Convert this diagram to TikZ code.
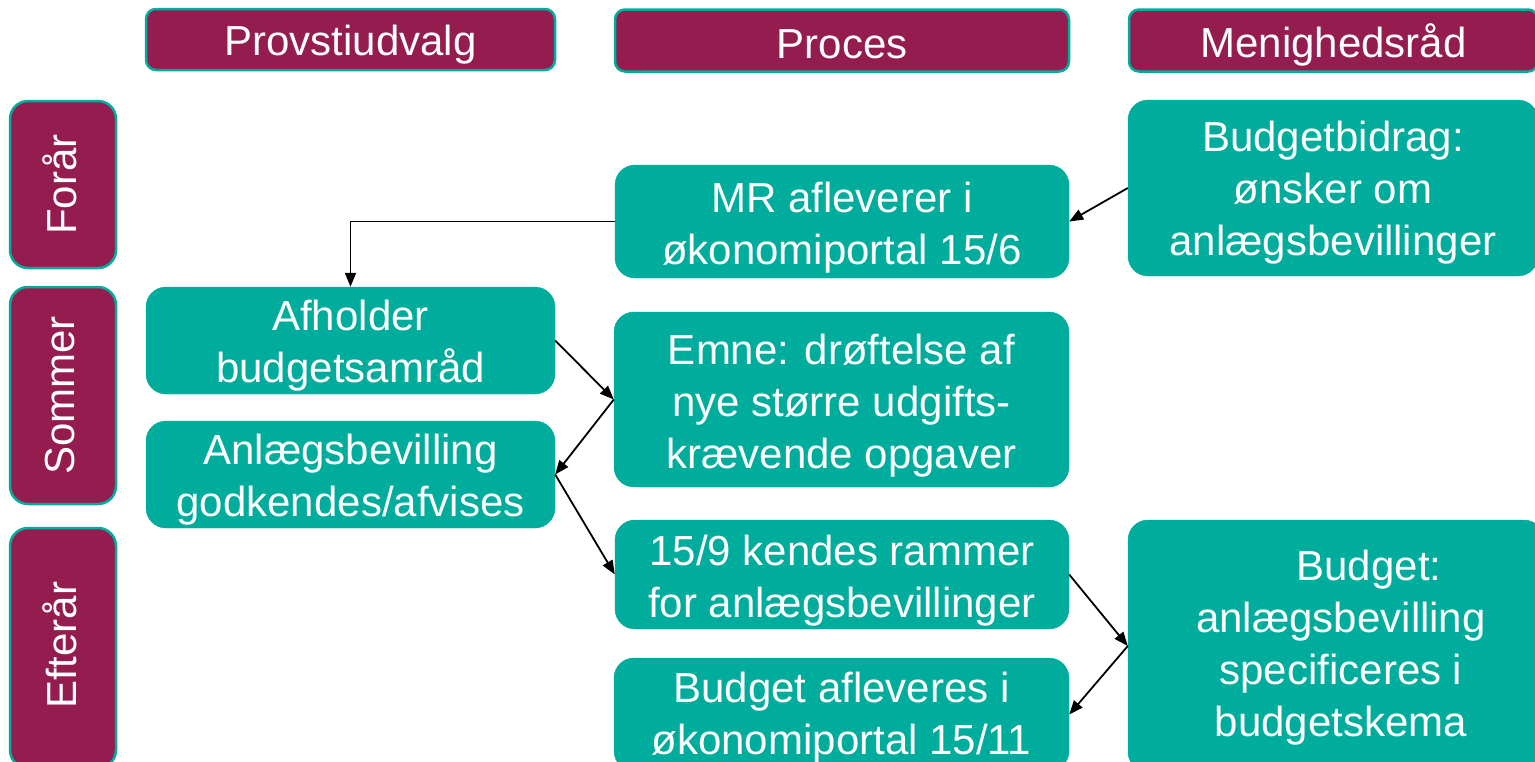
\documentclass[tikz,border=0pt]{standalone}
\usepackage{fontspec}
\setmainfont{Liberation Sans}
\usetikzlibrary{arrows.meta}
\definecolor{plum}{RGB}{149,28,78}
\definecolor{teal2}{RGB}{0,173,157}
\begin{document}
\begin{tikzpicture}[x=1pt,y=-1pt,
 hdr/.style={draw=teal2, line width=2.5pt, fill=plum, rounded corners=10pt, inner sep=0pt},
 side/.style={hdr, rounded corners=18pt},
 stepbox/.style={fill=teal2, draw=teal2, rounded corners=20pt, inner sep=0pt},
 txt/.style={text=white, font=\fontsize{42}{52}\selectfont, align=center, inner sep=0pt},
 arr/.style={-{Triangle[length=14pt,width=11pt]}, line width=1.8pt}]
\useasboundingbox (0,0) rectangle (1535,761);
% headers
\node[hdr, minimum width=409pt, minimum height=61pt] (h1) at (350.5,39.5) {};
\node[hdr, minimum width=454pt, minimum height=62pt] (h2) at (842,40.5) {};
\node[hdr, minimum width=409pt, minimum height=62pt] (h3) at (1333.5,40.5) {};
\node[txt, anchor=base] (h1t) at ([yshift=-15.5pt]h1.center) {Provstiudvalg};
\node[txt, anchor=base] (h2t) at ([yshift=-17.5pt]h2.center) {Proces};
\node[txt, anchor=base] (h3t) at ([yshift=-16.5pt]h3.center) {Menighedsråd};
% seasons
\node[side, minimum width=106pt, minimum height=167pt] (s1) at (63,184.5) {};
\node[side, minimum width=106pt, minimum height=217pt] (s2) at (63,395.5) {};
\node[side, minimum width=106pt, minimum height=240pt] (s3) at (63,648) {};
\node[txt, rotate=90] (s1t) at ([xshift=-3pt]s1.center) {Forår};
\node[txt, rotate=90] (s2t) at ([xshift=-3pt]s2.center) {Sommer};
\node[txt, rotate=90] (s3t) at ([xshift=-3pt,yshift=3pt]s3.center) {Efterår};
% process boxes
\node[stepbox, minimum width=454pt, minimum height=113pt] (mr) at (842,221.5) {};
\node[stepbox, minimum width=410pt, minimum height=176pt] (bb) at (1333,188) {};
\node[stepbox, minimum width=409pt, minimum height=107pt] (afh) at (350.5,340.5) {};
\node[stepbox, minimum width=409pt, minimum height=107pt] (anl) at (350.5,474.5) {};
\node[stepbox, minimum width=455pt, minimum height=175pt] (emne) at (841.5,399.5) {};
\node[stepbox, minimum width=454pt, minimum height=109pt] (r159) at (842,574.5) {};
\node[stepbox, minimum width=455pt, minimum height=113pt] (ba) at (841.5,714.5) {};
\node[stepbox, minimum width=416pt, minimum height=252pt] (bud) at (1336,646) {};
\node[txt] (mrt) at ([yshift=-6pt]mr.center) {MR afleverer i\\økonomiportal 15/6};
\node[txt] (bbt) at ([yshift=-5pt]bb.center) {Budgetbidrag:\\ønsker om\\anlægsbevillinger};
\node[txt] (afht) at ([yshift=-5pt]afh.center) {Afholder\\budgetsamråd};
\node[txt] (anlt) at ([yshift=-5pt]anl.center) {Anlægsbevilling\\godkendes/afvises};
\node[txt] (emnet) at ([yshift=-6pt]emne.center) {Emne: drøftelse af\\nye større udgifts-\\krævende opgaver};
\node[txt] (r159t) at ([yshift=-6pt]r159.center) {15/9 kendes rammer\\for anlægsbevillinger};
\node[txt] (bat) at ([yshift=-3pt]ba.center) {Budget afleveres i\\økonomiportal 15/11};
\node[txt] (budt) at ([xshift=5pt,yshift=-2pt]bud.center) {\hspace*{56pt}Budget:\\anlægsbevilling\\specificeres i\\budgetskema};
% connectors
\draw[arr] (bb.west) -- (mr.east);
\draw[arr] (mr.west) -| (afh.north);
\draw[arr] (afh.east) -- (emne.west);
\draw[arr] (emne.west) -- (anl.east);
\draw[arr] (anl.east) -- (r159.west);
\draw[arr] (r159.east) -- (bud.west);
\draw[arr] (bud.west) -- (ba.east);
\end{tikzpicture}
\end{document}
